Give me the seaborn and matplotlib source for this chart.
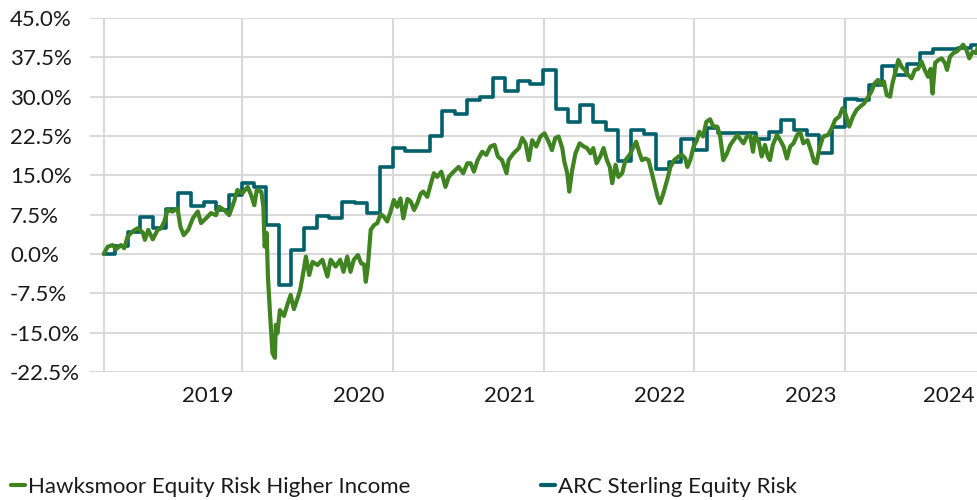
import numpy as np
import pandas as pd
import matplotlib.pyplot as plt
from matplotlib.ticker import PercentFormatter
import seaborn as sns

# Hawksmoor Equity Risk Higher Income: days since 31 Jan 2019, cumulative return (%)
hawk_days = [0, 10, 22, 30, 42, 50, 58, 70, 82, 95,
             100, 108, 119, 131, 139, 147, 155, 167, 179, 186,
             194, 205, 216, 228, 236, 248, 260, 272, 280, 292,
             304, 316, 324, 336, 349, 357, 365, 371, 382, 387,
             390, 395, 398, 403, 409, 415, 417, 421, 427, 437,
             445, 453, 461, 470, 476, 482, 490, 498, 506, 518,
             530, 542, 550, 562, 573, 581, 590, 598, 606, 616,
             624, 631, 635, 640, 647, 655, 663, 671, 679, 687,
             694, 703, 711, 719, 726, 736, 744, 752, 760, 768,
             774, 784, 792, 800, 808, 818, 828, 836, 848, 860,
             871, 881, 889, 897, 906, 917, 927, 937, 947, 955,
             965, 976, 981, 993, 1006, 1014, 1022, 1030, 1038, 1048,
             1058, 1068, 1078, 1086, 1094, 1102, 1111, 1116, 1123, 1128,
             1135, 1143, 1153, 1163, 1171, 1179, 1186, 1194, 1203, 1211,
             1219, 1226, 1232, 1240, 1247, 1256, 1264, 1274, 1284, 1290,
             1298, 1304, 1312, 1320, 1328, 1336, 1342, 1348, 1356, 1365,
             1373, 1382, 1393, 1401, 1409, 1414, 1421, 1429, 1437, 1443,
             1452, 1460, 1469, 1477, 1486, 1493, 1501, 1510, 1518, 1526,
             1535, 1544, 1550, 1558, 1566, 1573, 1578, 1586, 1594, 1602,
             1609, 1614, 1621, 1631, 1639, 1647, 1655, 1663, 1671, 1680,
             1687, 1695, 1705, 1713, 1721, 1727, 1734, 1743, 1755, 1764,
             1772, 1782, 1790, 1798, 1806, 1815, 1824, 1834, 1842, 1850,
             1860, 1868, 1876, 1882, 1890, 1897, 1905, 1911, 1917, 1925,
             1933, 1941, 1949, 1957, 1965, 1973, 1981, 1989, 1997, 2003,
             2008, 2014, 2022, 2030, 2038, 2043, 2050, 2058, 2066, 2074,
             2082, 2090, 2097, 2105, 2113, 2118]
hawk_pct = [0.0, 1.4, 1.7, 0.9, 1.7, 1.1, 3.3, 4.3, 4.9, 4.1,
            2.7, 4.6, 2.8, 4.6, 4.9, 6.2, 8.4, 8.1, 8.7, 5.2,
            3.6, 4.6, 6.8, 8.1, 5.9, 6.8, 7.8, 7.4, 9.0, 8.4,
            7.4, 10.0, 12.2, 11.6, 12.8, 11.3, 9.3, 12.2, 11.9, 9.0,
            1.4, 4.0, -4.3, -11.3, -18.9, -19.8, -13.5, -15.1, -10.7, -11.8,
            -9.7, -7.8, -10.5, -8.4, -6.9, -4.3, -0.5, -4.0, -1.5, -2.1,
            -1.1, -4.3, -1.1, -2.4, -1.1, -3.4, -0.5, -3.4, -1.1, -0.2,
            -1.8, -2.0, -5.3, -2.4, 4.6, 5.5, 5.9, 7.6, 7.1, 6.2,
            7.8, 10.3, 9.0, 10.6, 6.8, 10.5, 10.0, 8.4, 9.7, 11.5,
            11.9, 10.9, 13.2, 15.4, 14.7, 15.7, 12.8, 14.7, 15.7, 16.6,
            15.4, 17.3, 17.3, 15.7, 17.9, 19.5, 18.9, 20.5, 20.8, 18.6,
            17.9, 15.4, 17.9, 19.2, 20.2, 22.1, 21.1, 17.9, 21.7, 20.5,
            22.4, 23.0, 21.4, 19.8, 22.1, 22.4, 20.2, 17.6, 15.4, 11.9,
            16.0, 19.2, 21.1, 20.5, 20.2, 19.2, 20.2, 17.3, 18.6, 20.2,
            17.9, 16.6, 13.5, 17.0, 14.7, 15.4, 17.9, 18.9, 20.5, 21.4,
            19.2, 17.9, 18.2, 17.9, 15.4, 12.8, 10.9, 9.7, 11.6, 14.1,
            16.6, 17.9, 18.6, 18.9, 18.2, 16.6, 17.9, 20.5, 21.7, 23.3,
            22.4, 25.2, 25.7, 24.3, 24.3, 22.7, 17.9, 19.2, 20.8, 21.7,
            22.7, 21.7, 21.1, 22.4, 22.7, 19.5, 22.4, 21.7, 18.6, 20.8,
            18.6, 17.9, 20.8, 22.7, 21.7, 20.5, 18.2, 20.5, 21.1, 22.7,
            23.3, 21.1, 21.7, 19.8, 17.6, 17.3, 20.2, 22.4, 22.7, 24.0,
            25.6, 26.2, 27.8, 26.5, 24.3, 26.2, 27.5, 28.2, 28.7, 29.7,
            31.0, 32.6, 33.2, 32.3, 32.9, 30.3, 30.0, 32.6, 34.4, 37.0,
            35.7, 35.1, 34.1, 33.5, 35.1, 35.3, 36.7, 35.1, 33.8, 35.3,
            30.6, 36.4, 37.0, 37.3, 36.4, 35.1, 37.6, 38.3, 38.6, 39.2,
            39.9, 38.9, 37.3, 38.6, 38.3, 39.5]

# ARC Sterling Equity Risk: month-end cumulative return (%), Jan 2019 - Oct 2024
arc_pct = [0.0, 1.5, 4.1, 7.1, 4.9, 8.6, 11.6, 9.1, 10.0, 8.4, 11.3, 13.6,
           12.7, 5.6, -6.0, 0.8, 5.0, 7.3, 6.9, 9.9, 9.8, 7.8, 16.5, 20.3,
           19.6, 19.6, 22.5, 27.3, 26.7, 29.4, 30.0, 33.5, 31.1, 32.9, 32.5, 35.1,
           27.7, 25.2, 28.4, 25.2, 23.6, 17.8, 23.6, 22.9, 16.2, 17.6, 21.9, 19.8,
           24.0, 23.0, 23.1, 23.1, 22.0, 23.3, 25.6, 23.6, 22.7, 19.2, 24.3, 29.6,
           29.4, 32.3, 35.8, 34.2, 36.2, 38.3, 39.0, 39.1, 39.2, 39.8]

years = ['2019', '2020', '2021', '2022', '2023', '2024']

GREEN = '#3f8420'
TEAL = '#00606b'
GRID = '#d9d9d9'
TEXT = '#1a1a1a'

start = pd.Timestamp('2019-01-31')
hawk = pd.DataFrame({'date': start + pd.to_timedelta(hawk_days, unit='D'),
                     'pct': hawk_pct})
end = hawk['date'].iloc[-1]

arc = pd.DataFrame({'date': pd.date_range(start, periods=len(arc_pct), freq='ME'),
                    'pct': arc_pct})
# hold the last monthly value to the end of the daily series
arc = pd.concat([arc, pd.DataFrame({'date': [end], 'pct': [arc_pct[-1]]})],
                ignore_index=True)

sns.set_theme(style='white')
plt.rcParams['font.family'] = ['Lato', 'DejaVu Sans']
plt.rcParams['axes.unicode_minus'] = False

fig = plt.figure(figsize=(9.78, 5.0), dpi=100)
ax = fig.add_axes([90 / 978, 1 - 372 / 500, 888 / 978, 354 / 500])

sns.lineplot(data=arc, x='date', y='pct', ax=ax, color=TEAL, lw=2.6,
             drawstyle='steps-post', label='ARC Sterling Equity Risk')
sns.lineplot(data=hawk, x='date', y='pct', ax=ax, color=GREEN, lw=3.0,
             label='Hawksmoor Equity Risk Higher Income')

ax.set_xlim(start - pd.Timedelta(days=33), end)
ax.set_ylim(-22.5, 45)
ax.set_xlabel('')
ax.set_ylabel('')
for s in ax.spines.values():
    s.set_visible(False)

# year gridlines, labels sit inside each calendar year
grid_dates = [start] + [pd.Timestamp(f'{y}-01-01') for y in range(2020, 2025)]
label_dates = [pd.Timestamp(f'{int(y) + 1}-01-01') - pd.Timedelta(days=83) for y in years[:-1]]
label_dates.append(end - pd.Timedelta(days=72))
ax.set_xticks(grid_dates)
ax.set_xticklabels([])
ax.set_xticks(label_dates, minor=True)
ax.set_xticklabels(years, minor=True, fontsize=16, color=TEXT)
ax.tick_params(axis='x', which='major', length=12, width=1.5, color=GRID, direction='out')
ax.tick_params(axis='x', which='minor', length=0, pad=10)

ax.set_yticks(np.arange(-22.5, 45.1, 7.5))
ax.yaxis.set_major_formatter(PercentFormatter(decimals=1))
ax.tick_params(axis='y', length=0, pad=57.6, labelsize=16, labelcolor=TEXT)
for lab in ax.get_yticklabels():
    lab.set_horizontalalignment('left')

ax.grid(True, which='major', color=GRID, lw=1.5)
ax.set_axisbelow(True)

handles, labels = ax.get_legend_handles_labels()
ax.get_legend().remove()
leg = fig.legend(handles[::-1], labels[::-1], loc='center left',
                 bbox_to_anchor=(11 / 978, 13 / 500), ncol=2, frameon=False,
                 handlelength=0.63, handletextpad=0.15, columnspacing=5.85,
                 borderpad=0, borderaxespad=0,
                 prop={'family': ['Lato', 'DejaVu Sans'], 'size': 16})
for h in leg.legend_handles:
    h.set_linewidth(3)
for t in leg.get_texts():
    t.set_color(TEXT)

fig.savefig('out.png', dpi=100)
